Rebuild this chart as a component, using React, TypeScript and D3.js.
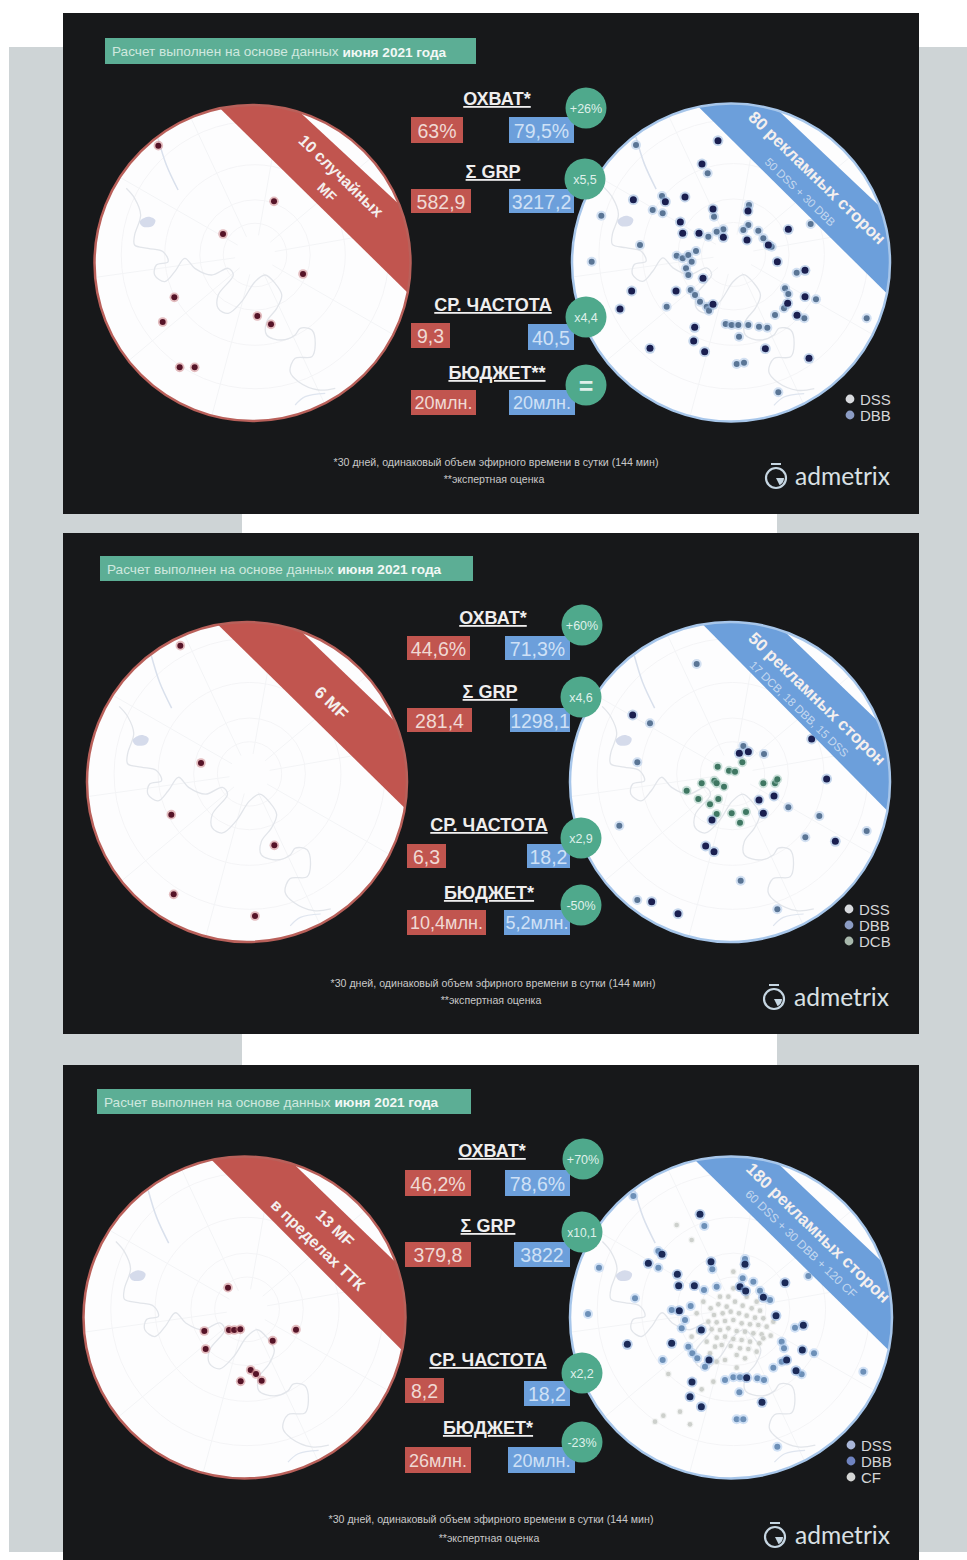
import React from "react";
import * as d3 from "d3";

// ---------- values ----------
type Pt = [number, number];

const headerLead = "Расчет выполнен на основе данных ";
const headerBold = "июня 2021 года";
const footnoteOne = "*30 дней, одинаковый объем эфирного времени в сутки (144 мин)";
const footnoteTwo = "**экспертная оценка";
const brandName = "admetrix";

const titlesA = ["ОХВАТ*", "Σ GRP", "СР. ЧАСТОТА", "БЮДЖЕТ**"];
const mfValuesA = ["63%", "582,9", "9,3", "20млн."];
const sideValuesA = ["79,5%", "3217,2", "40,5", "20млн."];
const deltasA = ["+26%", "x5,5", "x4,4", "="];

const titlesB = ["ОХВАТ*", "Σ GRP", "СР. ЧАСТОТА", "БЮДЖЕТ*"];
const mfValuesB = ["44,6%", "281,4", "6,3", "10,4млн."];
const sideValuesB = ["71,3%", "1298,1", "18,2", "5,2млн."];
const deltasB = ["+60%", "x4,6", "x2,9", "-50%"];

const titlesC = ["ОХВАТ*", "Σ GRP", "СР. ЧАСТОТА", "БЮДЖЕТ*"];
const mfValuesC = ["46,2%", "379,8", "8,2", "26млн."];
const sideValuesC = ["78,6%", "3822", "18,2", "20млн."];
const deltasC = ["+70%", "x10,1", "x2,2", "-23%"];

const bannerLeftA = ["10 случайных", "MF"];
const bannerRightA = ["80 рекламных сторон", "50 DSS + 30 DBB"];
const bannerLeftB = ["6 MF"];
const bannerRightB = ["50 рекламных сторон", "17 DCB, 18 DBB, 15 DSS"];
const bannerLeftC = ["13 MF", "в пределах ТТК"];
const bannerRightC = ["180 рекламных сторон", "60 DSS + 30 DBB + 120 CF"];

const legendA = ["DSS", "DBB"];
const legendB = ["DSS", "DBB", "DCB"];
const legendC = ["DSS", "DBB", "CF"];

// Site locations in map units of each circle's own viewport.
const mfSitesA: Pt[] = [[220,152],[567,319],[414,417],[654,537],[268,607],[233,681],[517,663],[558,688],[284,817],[329,817]];
const mfSitesB: Pt[] = [[301,92],[363,444],[274,599],[583,691],[281,838],[525,903]];
const mfSitesC: Pt[] = [[444,413],[373,543],[377,597],[447,540],[463,540],[481,538],[578,572],[648,539],[512,660],[528,672],[482,694],[545,692]];

const dssA: Pt[] = [[474,152],[426,222],[375,321],[220,329],[316,335],[459,357],[564,363],[361,396],[368,430],[417,430],[490,442],[561,450],[685,418],[625,465],[652,515],[735,541],[429,565],[215,603],[348,603],[180,657],[459,643],[735,620],[683,640],[711,676],[404,712],[401,753],[434,785],[270,775],[616,776],[747,805]];
const dbbA: Pt[] = [[228,165],[443,250],[306,318],[278,360],[308,370],[124,377],[462,380],[567,345],[752,402],[565,405],[550,420],[595,422],[490,418],[470,425],[445,440],[610,445],[635,470],[240,465],[95,515],[350,497],[368,505],[385,495],[408,483],[395,515],[378,535],[385,555],[710,548],[392,600],[405,615],[420,635],[440,650],[447,662],[675,595],[685,612],[672,655],[645,675],[320,650],[768,628],[733,685],[920,685],[497,702],[515,705],[535,705],[565,705],[597,710],[622,713],[537,740],[530,822],[552,818],[655,907]];

const dssB: Pt[] = [[218,315],[538,430],[565,425],[800,507],[755,387],[642,558],[597,570],[610,610],[456,630],[437,708],[462,725],[826,694],[275,875],[354,911]];
const dbbB: Pt[] = [[410,162],[270,340],[232,457],[612,432],[550,408],[685,592],[778,618],[736,682],[920,663],[178,647],[542,812],[232,870],[652,898]];
const dcbB: Pt[] = [[547,457],[473,470],[507,482],[525,485],[463,512],[425,520],[470,520],[492,530],[380,542],[415,567],[475,567],[450,583],[470,612],[515,610],[558,606],[540,638],[610,520],[645,520],[652,508]];

const dssC: Pt[] = [[420,208],[453,350],[555,358],[265,355],[306,328],[352,388],[356,422],[403,422],[540,425],[557,438],[675,413],[610,457],[648,512],[730,541],[358,497],[424,555],[202,598],[335,595],[447,645],[727,615],[680,645],[708,677],[396,711],[390,755],[424,785],[606,772],[560,698]];
const dbbC: Pt[] = [[220,153],[433,243],[295,318],[295,368],[117,368],[457,373],[555,342],[745,393],[548,400],[580,410],[432,435],[470,425],[600,437],[630,465],[225,460],[84,507],[335,495],[392,483],[375,525],[365,550],[705,548],[665,590],[672,610],[385,605],[397,625],[412,640],[435,665],[308,645],[665,650],[640,668],[762,625],[725,688],[910,680],[495,705],[520,697],[540,697],[592,700],[612,705],[538,742],[530,823],[550,823],[652,905]];
const cfC: Pt[] = [[452,490],[475,478],[500,485],[525,470],[548,482],[575,490],[600,497],[462,510],[488,505],[512,500],[537,505],[560,512],[585,518],[610,520],[445,530],[470,532],[495,528],[520,525],[545,535],[570,538],[595,540],[620,545],[455,553],[480,555],[505,550],[530,558],[555,560],[580,565],[605,568],[632,572],[470,578],[495,575],[520,582],[545,585],[570,590],[598,595],[485,600],[512,603],[540,610],[565,612],[465,605],[530,630],[555,640],[590,620],[610,580],[520,430],[505,455],[560,455],[480,455],[430,470],[640,530],[440,590],[470,650],[495,645],[530,668],[520,380],[460,710],[425,733],[325,687],[350,240],[395,285],[285,830],[310,812],[360,800],[390,838],[395,575],[450,625],[415,560],[590,470],[410,505]];

// Base map of the city, in shared base-map units.
const riverMain: Pt[] = [[125,280],[150,310],[168,360],[150,420],[150,450],[190,460],[235,470],[250,500],[215,510],[210,540],[240,560],[270,530],[300,490],[330,520],[380,540],[430,520],[445,540],[400,600],[400,640],[430,655],[470,620],[510,560],[540,540],[570,565],[590,600],[575,640],[545,680],[545,720],[590,735],[630,720],[645,700],[680,705],[690,750],[680,785],[630,790],[615,830],[640,860],[700,885],[750,880]];
const canal: Pt[] = [[220,130],[245,210],[280,285]];
const southStream: Pt[] = [[630,930],[660,905],[720,895]];
const reservoir: Pt[] = [[165,380],[190,365],[212,375],[205,392],[175,395]];
const ringRadii = [95, 165, 270, 400];
const radialBearings = [10, 50, 80, 120, 155, 195, 230, 262, 300, 335];
const mapHub: Pt = [510, 480];

// ---------- layout ----------
const PAGE_W = 967;
const PAGE_H = 1560;
const COL = { panel: "#17181a", grey: "#ced4d6", red: "#c1554f", blue: "#6c9fdb", teal: "#4fa98c", header: "#5cae95", soft: "#e8e4e2" };

const panelBands = [[13, 514], [533, 1034], [1065, 1560]];

type Disc = { cx: number; cy: number; r: number; ox: number; oy: number; span: number; inner: [Pt, Pt]; outer: [Pt, Pt] };
type Box = [number, number, number, number];
type Row = { tx: number; ty: number; red: Box; blue: Box; badge: Pt };

const panelLayouts = [
  {
    head: [105, 38, 476, 64],
    foot: [496, 466, 483],
    brand: [776, 478, 795, 485],
    legendAt: [850, 399],
    left: { cx: 252.5, cy: 263, r: 158, ox: 85, oy: 95, span: 340, inner: [[410, 45], [965, 590]], outer: [[670, 75], [945, 330]] } as Disc,
    right: { cx: 731, cy: 262.5, r: 159, ox: 560, oy: 90, span: 360, inner: [[420, 55], [975, 605]], outer: [[680, 85], [950, 340]] } as Disc,
    leftText: [[341, 176, 16], [327, 192, 14]],
    rightText: [[817, 178, 17], [800, 192, 11.5]],
    rows: [
      { tx: 497, ty: 105, red: [411, 117, 463, 143], blue: [509, 117, 574, 143], badge: [586, 108] },
      { tx: 493, ty: 178, red: [411, 189, 471, 213], blue: [509, 189, 574, 213], badge: [585, 179] },
      { tx: 493, ty: 311, red: [411, 323, 450, 348], blue: [528, 324, 574, 350], badge: [586, 317] },
      { tx: 497, ty: 379, red: [411, 390, 476, 415], blue: [509, 390, 575, 415], badge: [586, 385] },
    ] as Row[],
  },
  {
    head: [100, 556, 473, 581],
    foot: [493, 987, 1004],
    brand: [774, 999, 794, 1006],
    legendAt: [849, 909],
    left: { cx: 247, cy: 782, r: 160, ox: 80, oy: 615, span: 340, inner: [[420, 35], [970, 575]], outer: [[685, 70], [935, 310]] } as Disc,
    right: { cx: 730, cy: 782, r: 160, ox: 560, oy: 610, span: 360, inner: [[430, 45], [975, 595]], outer: [[690, 80], [950, 330]] } as Disc,
    leftText: [[331, 703, 17]],
    rightText: [[817, 699, 17], [799, 709, 11.5]],
    rows: [
      { tx: 493, ty: 624, red: [407, 636, 470, 660], blue: [505, 636, 570, 660], badge: [582, 625] },
      { tx: 490, ty: 698, red: [407, 708, 472, 732], blue: [510, 708, 570, 732], badge: [581, 697] },
      { tx: 489, ty: 831, red: [407, 844, 446, 868], blue: [527, 844, 570, 868], badge: [581, 838] },
      { tx: 489, ty: 899, red: [407, 910, 486, 935], blue: [504, 910, 570, 935], badge: [581, 905] },
    ] as Row[],
  },
  {
    head: [97, 1089, 471, 1114],
    foot: [491, 1523, 1542],
    brand: [775, 1537, 795, 1544],
    legendAt: [851, 1445],
    left: { cx: 244.5, cy: 1317.5, r: 161, ox: 80, oy: 1150, span: 340, inner: [[400, 35], [955, 590]], outer: [[660, 60], [940, 330]] } as Disc,
    right: { cx: 731, cy: 1317.5, r: 161, ox: 560, oy: 1145, span: 360, inner: [[415, 55], [975, 605]], outer: [[680, 80], [955, 340]] } as Disc,
    leftText: [[335, 1228, 16], [318, 1245, 16]],
    rightText: [[818, 1233, 17], [801, 1244, 12]],
    rows: [
      { tx: 492, ty: 1157, red: [405, 1170, 471, 1196], blue: [505, 1170, 570, 1196], badge: [583, 1159] },
      { tx: 488, ty: 1232, red: [405, 1242, 471, 1267], blue: [514, 1242, 570, 1267], badge: [582, 1232] },
      { tx: 488, ty: 1366, red: [405, 1378, 444, 1403], blue: [524, 1381, 570, 1406], badge: [582, 1373] },
      { tx: 488, ty: 1434, red: [405, 1447, 471, 1473], blue: [508, 1447, 575, 1473], badge: [582, 1442] },
    ] as Row[],
  },
];

const FONT = "'Liberation Sans', Arial, sans-serif";

// Faint roads and water shared by every circle.
function BaseMap({ d }: { d: Disc }) {
  const x = d3.scaleLinear().domain([30, 975]).range([d.cx - d.r, d.cx + d.r]);
  const y = d3.scaleLinear().domain([30, 978]).range([d.cy - d.r, d.cy + d.r]);
  const k = (x(1) - x(0));
  const smooth = d3.line<Pt>().x((p) => x(p[0])).y((p) => y(p[1])).curve(d3.curveCatmullRom);
  const closed = d3.line<Pt>().x((p) => x(p[0])).y((p) => y(p[1])).curve(d3.curveCatmullRomClosed);
  return (
    <g fill="none">
      {ringRadii.map((r) => (
        <circle key={r} cx={x(mapHub[0])} cy={y(mapHub[1])} r={r * k} stroke="#f4f4f6" strokeWidth={1} />
      ))}
      {radialBearings.map((b) => {
        const a = (b * Math.PI) / 180;
        return (
          <line key={b} x1={x(mapHub[0] + 60 * Math.sin(a))} y1={y(mapHub[1] - 60 * Math.cos(a))} x2={x(mapHub[0] + 520 * Math.sin(a))} y2={y(mapHub[1] - 520 * Math.cos(a))} stroke="#f3f4f6" strokeWidth={1} />
        );
      })}
      <path d={smooth(riverMain) ?? ""} stroke="#e2e5ea" strokeWidth={1.3} />
      <path d={smooth(canal) ?? ""} stroke="#d9e0ec" strokeWidth={1.5} />
      <path d={smooth(southStream) ?? ""} stroke="#dfe5ef" strokeWidth={1.2} />
      <path d={closed(reservoir) ?? ""} fill="#d5dbeb" stroke="none" />
    </g>
  );
}

function DiscFrame({ id, d, color, ring, lines, textSpots, children }: { id: string; d: Disc; color: string; ring: string; lines: string[]; textSpots: number[][]; children: React.ReactNode }) {
  const x = d3.scaleLinear().domain([0, d.span * 3]).range([d.ox, d.ox + d.span]);
  const y = d3.scaleLinear().domain([0, d.span * 3]).range([d.oy, d.oy + d.span]);
  const extend = (p: Pt, q: Pt, t: number): Pt => [p[0] + (q[0] - p[0]) * t, p[1] + (q[1] - p[1]) * t];
  const band: Pt[] = [
    extend(d.inner[0], d.inner[1], -0.3),
    extend(d.inner[0], d.inner[1], 1.3),
    extend(d.outer[0], d.outer[1], 1.5),
    extend(d.outer[0], d.outer[1], -0.5),
  ];
  const bandPath = d3.line<Pt>().x((p) => x(p[0])).y((p) => y(p[1]))(band) + "Z";
  return (
    <g>
      <clipPath id={id}>
        <circle cx={d.cx} cy={d.cy} r={d.r} />
      </clipPath>
      <circle cx={d.cx} cy={d.cy} r={d.r} fill="#fdfdfe" />
      <g clipPath={`url(#${id})`}>
        <BaseMap d={d} />
        {children}
        <path d={bandPath} fill={color} />
      </g>
      <circle cx={d.cx} cy={d.cy} r={d.r} fill="none" stroke={ring} strokeWidth={2.5} />
      {lines.map((t, i) => (
        <text key={t} x={textSpots[i][0]} y={textSpots[i][1]} transform={`rotate(44 ${textSpots[i][0]} ${textSpots[i][1]})`} textAnchor="middle" dominantBaseline="central" fontFamily={FONT} fontWeight={i === 0 || color === COL.red ? 700 : 400} fontSize={textSpots[i][2]} fill={i === 0 || color === COL.red ? "#f4efee" : "#c3d7ef"}>
          {t}
        </text>
      ))}
    </g>
  );
}

function Dots({ d, pts, core, halo, r, haloR }: { d: Disc; pts: Pt[]; core: string; halo: string; r: number; haloR: number }) {
  const x = d3.scaleLinear().domain([0, d.span * 3]).range([d.ox, d.ox + d.span]);
  const y = d3.scaleLinear().domain([0, d.span * 3]).range([d.oy, d.oy + d.span]);
  return (
    <g>
      {pts.map(([a, b], i) => (
        <g key={i}>
          <circle cx={x(a)} cy={y(b)} r={haloR} fill={halo} opacity={0.5} />
          <circle cx={x(a)} cy={y(b)} r={r} fill={core} />
        </g>
      ))}
    </g>
  );
}

function Metrics({ rows, titles, reds, blues, deltas }: { rows: Row[]; titles: string[]; reds: string[]; blues: string[]; deltas: string[] }) {
  const tile = (b: Box, fill: string, txt: string, key: string) => (
    <g key={key}>
      <rect x={b[0]} y={b[1]} width={b[2] - b[0]} height={b[3] - b[1]} fill={fill} />
      <text x={(b[0] + b[2]) / 2} y={(b[1] + b[3]) / 2 + 0.5} textAnchor="middle" dominantBaseline="central" fontFamily={FONT} fontSize={txt.includes("млн") ? 18 : 19.5} fill={fill === COL.red ? "#f0d9d4" : "#cfe1f6"}>
        {txt}
      </text>
    </g>
  );
  return (
    <g>
      {rows.map((row, i) => (
        <g key={titles[i]}>
          <text x={row.tx} y={row.ty} textAnchor="middle" fontFamily={FONT} fontWeight={700} fontSize={18} fill="#efeeee" textDecoration="underline">
            {titles[i]}
          </text>
          {tile(row.red, COL.red, reds[i], "r")}
          {tile(row.blue, COL.blue, blues[i], "b")}
          <circle cx={row.badge[0]} cy={row.badge[1]} r={20.5} fill={COL.teal} />
          <text x={row.badge[0]} y={row.badge[1] + 0.5} textAnchor="middle" dominantBaseline="central" fontFamily={FONT} fontWeight={deltas[i] === "=" ? 700 : 400} fontSize={deltas[i] === "=" ? 25 : deltas[i].length > 4 ? 12 : 12.5} fill="#dff0ea">
            {deltas[i]}
          </text>
        </g>
      ))}
    </g>
  );
}

function Brand({ at }: { at: number[] }) {
  const [ix, iy, tx, ty] = at;
  const a = d3.arc()({ innerRadius: 0, outerRadius: 8, startAngle: Math.PI * 0.5, endAngle: Math.PI * 0.85 } as any) ?? "";
  return (
    <g>
      <rect x={ix - 5} y={iy - 15} width={10} height={2} fill="#c6d6e2" />
      <circle cx={ix} cy={iy} r={10} fill="none" stroke="#c6d6e2" strokeWidth={2.2} />
      <path d={a} transform={`translate(${ix} ${iy})`} fill="#c6d6e2" />
      <text x={tx} y={ty} fontFamily="Lato, sans-serif" fontWeight={400} fontSize={25} fill="#d9e0e4" textLength={95} lengthAdjust="spacingAndGlyphs">
        {brandName}
      </text>
    </g>
  );
}

function Legend({ at, names, swatches }: { at: number[]; names: string[]; swatches: string[] }) {
  return (
    <g>
      {names.map((n, i) => (
        <g key={n}>
          <circle cx={at[0]} cy={at[1] + i * 16} r={4.4} fill={swatches[i]} />
          <text x={at[0] + 10} y={at[1] + i * 16 + 0.5} dominantBaseline="central" fontFamily={FONT} fontSize={15} fill="#d5d6d8">
            {n}
          </text>
        </g>
      ))}
    </g>
  );
}

const DOT = {
  mf: { core: "#561327", halo: "#c97c80", r: 3, haloR: 4.8 },
  dss: { core: "#1a1f50", halo: "#8eb0da", r: 3.5, haloR: 5.4 },
  dbb: { core: "#5a7595", halo: "#a8c3e6", r: 3, haloR: 5 },
  dcb: { core: "#3f7762", halo: "#9cc6b8", r: 3, haloR: 4.8 },
  cf: { core: "#cdd0cc", halo: "#e8e9e7", r: 2.3, haloR: 3.4 },
  dssBright: { core: "#1b2a58", halo: "#7da6dc", r: 3.5, haloR: 5.4 },
  dbbBright: { core: "#6d90b8", halo: "#a8c8ee", r: 3, haloR: 5 },
};

export default function App() {
  const [A, B, C] = panelLayouts;
  const panels = [
    { lay: A, titles: titlesA, reds: mfValuesA, blues: sideValuesA, deltas: deltasA, bl: bannerLeftA, br: bannerRightA, mf: mfSitesA, legend: legendA, swatches: ["#d8dade", "#8b9cc4"], sets: [{ pts: dbbA, s: DOT.dbb }, { pts: dssA, s: DOT.dss }] },
    { lay: B, titles: titlesB, reds: mfValuesB, blues: sideValuesB, deltas: deltasB, bl: bannerLeftB, br: bannerRightB, mf: mfSitesB, legend: legendB, swatches: ["#d8dade", "#8b9cc4", "#a8b8ac"], sets: [{ pts: dcbB, s: DOT.dcb }, { pts: dbbB, s: DOT.dbb }, { pts: dssB, s: DOT.dss }] },
    { lay: C, titles: titlesC, reds: mfValuesC, blues: sideValuesC, deltas: deltasC, bl: bannerLeftC, br: bannerRightC, mf: mfSitesC, legend: legendC, swatches: ["#a9b6d8", "#6f83c0", "#d4d5d4"], sets: [{ pts: cfC, s: DOT.cf }, { pts: dbbC, s: DOT.dbbBright }, { pts: dssC, s: DOT.dssBright }] },
  ];
  return (
    <svg width={PAGE_W} height={PAGE_H} viewBox={`0 0 ${PAGE_W} ${PAGE_H}`} style={{ position: "absolute", left: 0, top: 0, display: "block" }}>
      <rect width={PAGE_W} height={PAGE_H} fill="#ffffff" />
      <rect x={9} y={47} width={233} height={1505} fill={COL.grey} />
      <rect x={777} y={47} width={190} height={1505} fill={COL.grey} />
      {panels.map((p, i) => {
        const band = panelBands[i];
        const { lay } = p;
        return (
          <g key={i}>
            <rect x={63} y={band[0]} width={856} height={band[1] - band[0]} fill={COL.panel} />
            <rect x={lay.head[0]} y={lay.head[1]} width={lay.head[2] - lay.head[0]} height={lay.head[3] - lay.head[1]} fill={COL.header} />
            <text x={lay.head[0] + 7} y={(lay.head[1] + lay.head[3]) / 2 + 0.5} dominantBaseline="central" fontFamily={FONT} fontSize={13.6} fill="#cfe8df">
              {headerLead}
              <tspan fontWeight={700} fill="#f2f8f5">{headerBold}</tspan>
            </text>
            <DiscFrame id={`mf-${i}`} d={lay.left} color={COL.red} ring="#b9605a" lines={p.bl} textSpots={lay.leftText}>
              <Dots d={lay.left} pts={p.mf} {...DOT.mf} />
            </DiscFrame>
            <DiscFrame id={`side-${i}`} d={lay.right} color={COL.blue} ring="#a7c6ea" lines={p.br} textSpots={lay.rightText}>
              {p.sets.map((set, j) => (
                <Dots key={j} d={lay.right} pts={set.pts} {...set.s} />
              ))}
            </DiscFrame>
            <Metrics rows={lay.rows} titles={p.titles} reds={p.reds} blues={p.blues} deltas={p.deltas} />
            <Legend at={lay.legendAt} names={p.legend} swatches={p.swatches} />
            <text x={lay.foot[0]} y={lay.foot[1]} textAnchor="middle" fontFamily={FONT} fontSize={10.6} fill="#c9c9c9">{footnoteOne}</text>
            <text x={lay.foot[0] - 2} y={lay.foot[2]} textAnchor="middle" fontFamily={FONT} fontSize={10.6} fill="#c9c9c9">{footnoteTwo}</text>
            <Brand at={lay.brand} />
          </g>
        );
      })}
    </svg>
  );
}
